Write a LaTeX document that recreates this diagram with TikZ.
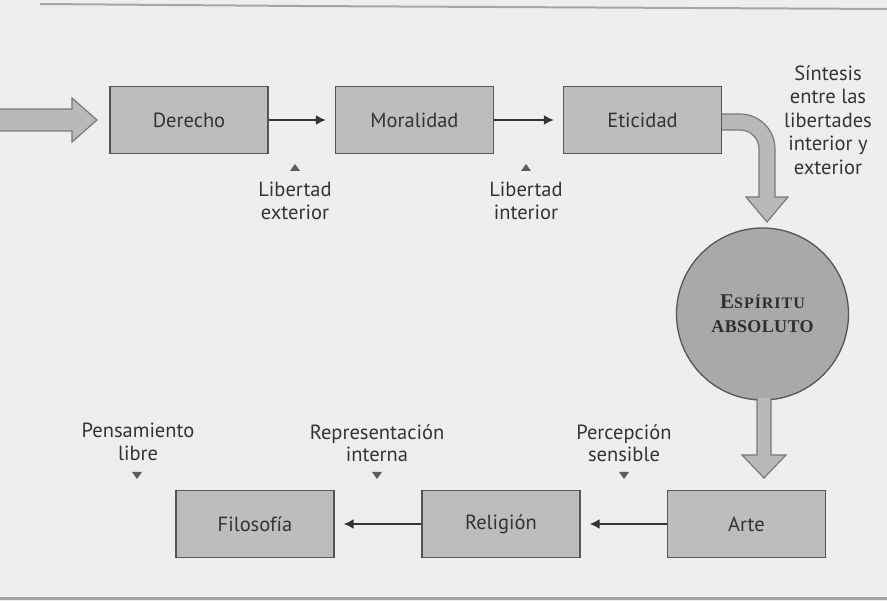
\documentclass[tikz,border=0pt]{standalone}
\usepackage{fontspec}
\usetikzlibrary{arrows.meta}
\newfontfamily\lblfont{PT Sans}
\newfontfamily\circfont{Liberation Serif}
\definecolor{bgcol}{HTML}{EEEEEE}
\definecolor{boxfill}{HTML}{BDBDBD}
\definecolor{boxline}{HTML}{555555}
\definecolor{circfill}{HTML}{A9A9A9}
\definecolor{arrfill}{HTML}{B9B9B9}
\definecolor{arrline}{HTML}{7A7A7A}
\definecolor{txt}{HTML}{333333}
\tikzset{
  x=1pt, y=-1pt,
  stagebox/.style={draw=boxline, line width=1.3pt, fill=boxfill, minimum width=158pt, minimum height=67pt, inner sep=0pt, text=txt, font=\lblfont\fontsize{20.5}{23}\selectfont},
  lbl/.style={align=center, text=txt, inner sep=0pt, font=\lblfont\fontsize{20.5}{22.5}\selectfont},
  thinarrow/.style={draw=txt, line width=1.8pt, -{Latex[length=10pt,width=10pt]}, shorten >=9pt},
  blockarrow/.style={draw=arrline, line width=1.2pt, fill=arrfill, line join=miter},
  marker/.style={fill=txt!80},
}
\begin{document}
\begin{tikzpicture}
\useasboundingbox (0,0) rectangle (887,601);
\fill[bgcol] (0,0) rectangle (887,601);
% page edges
\draw[gray!70, line width=2pt] (40,4) -- (300,6) -- (887,9);
\draw[gray!70, line width=3pt] (0,598) -- (887,598);

% top row
\node[stagebox] (der) at (189,120) {Derecho};
\node[stagebox] (mor) at (414.5,120) {Moralidad};
\node[stagebox] (eti) at (642.5,120) {Eticidad};
\draw[thinarrow] (der) -- (mor);
\draw[thinarrow] (mor) -- (eti);

% entry arrow
\draw[blockarrow] (0,109) -- (72,109) -- (72,98) -- (97,120) -- (72,142) -- (72,131) -- (0,131);

% labels top
\fill[marker] (290,171) -- (300,171) -- (295,164) -- cycle;
\node[lbl] (libext) at (295,201) {Libertad\\exterior};
\fill[marker] (521,171) -- (531,171) -- (526,164) -- cycle;
\node[lbl] (libint) at (526,201) {Libertad\\interior};
\node[lbl, font=\lblfont\fontsize{20.5}{23.5}\selectfont] (sint) at (828,120) {Síntesis\\entre las\\libertades\\interior y\\exterior};

% curved arrow
\draw[blockarrow] (722,114) -- (740,114) arc[start angle=-90, end angle=0, radius=35]
  -- (775,197) -- (788,197) -- (767,222) -- (746,197) -- (759,197) -- (759,149)
  arc[start angle=0, end angle=-90, radius=19] -- (722,130);

% circle
\node[circle, draw=boxline, line width=1.3pt, fill=circfill, minimum size=172pt, inner sep=0pt,
  align=center, text=txt!90!black, font=\circfont\bfseries] (esp) at (762.5,314)
  {{\fontsize{21}{21}\selectfont E}{\fontsize{16}{16}\selectfont\addfontfeature{LetterSpace=6}SPÍRITU}\\[11pt]
   {\fontsize{18}{18}\selectfont\addfontfeature{LetterSpace=2}ABSOLUTO}};

% down arrow
\draw[blockarrow] (757,398) -- (757,455) -- (742,455) -- (764,478) -- (786,455) -- (771,455) -- (771,398);

% bottom row
\node[stagebox] (fil) at (255,524) {Filosofía};
\node[stagebox] (rel) at (501,524) {Religión};
\node[stagebox] (art) at (746.5,524) {Arte};
\draw[thinarrow] (art) -- (rel);
\draw[thinarrow] (rel) -- (fil);

% labels bottom
\node[lbl] (pens) at (138,442) {Pensamiento\\libre};
\fill[marker] (132,472) -- (142,472) -- (137,479) -- cycle;
\node[lbl] (repr) at (377,443) {Representación\\interna};
\fill[marker] (372,472) -- (382,472) -- (377,479) -- cycle;
\node[lbl] (perc) at (624,443) {Percepción\\sensible};
\fill[marker] (619,472) -- (629,472) -- (624,479) -- cycle;
\end{tikzpicture}
\end{document}
